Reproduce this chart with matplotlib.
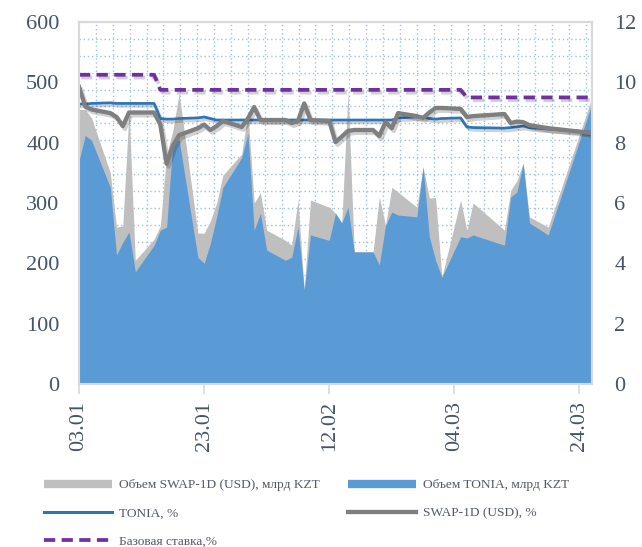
import matplotlib

matplotlib.use("Agg")
import matplotlib.dates as mdates
import matplotlib.patheffects as pe
import matplotlib.pyplot as plt
import numpy as np
import pandas as pd
from matplotlib.lines import Line2D
from matplotlib.ticker import FixedLocator, MultipleLocator

plt.rcParams["font.family"] = ["Liberation Serif", "DejaVu Serif"]

# --- data ---
dates = pd.to_datetime([
    "2018-01-03", "2018-01-04", "2018-01-05", "2018-01-08", "2018-01-09",
    "2018-01-10", "2018-01-11", "2018-01-12", "2018-01-15", "2018-01-16",
    "2018-01-17", "2018-01-18", "2018-01-19", "2018-01-22", "2018-01-23",
    "2018-01-24", "2018-01-25", "2018-01-26", "2018-01-29", "2018-01-30",
    "2018-01-31", "2018-02-01", "2018-02-02", "2018-02-05", "2018-02-06",
    "2018-02-07", "2018-02-08", "2018-02-09", "2018-02-12", "2018-02-13",
    "2018-02-14", "2018-02-15", "2018-02-16", "2018-02-19", "2018-02-20",
    "2018-02-21", "2018-02-22", "2018-02-23", "2018-02-26", "2018-02-27",
    "2018-02-28", "2018-03-01", "2018-03-02", "2018-03-05", "2018-03-06",
    "2018-03-07", "2018-03-12", "2018-03-13", "2018-03-14", "2018-03-15",
    "2018-03-16", "2018-03-19", "2018-03-26",
])

vol_swap = [
    455, 455, 441, 350, 260, 262, 452, 205, 240, 262,
    380, 420, 482, 250, 250, 270, 300, 346, 381, 449,
    300, 317, 255, 238, 230, 305, 156, 305, 293, 283,
    267, 484, 219, 219, 310, 263, 326, 318, 293, 360,
    308, 309, 177, 305, 255, 300, 255, 321, 337, 366,
    277, 260, 475,
]

vol_tonia = [
    370, 412, 404, 326, 214, 235, 252, 186, 230, 255,
    260, 400, 405, 210, 200, 233, 277, 326, 375, 415,
    255, 283, 222, 205, 210, 260, 156, 247, 238, 283,
    267, 293, 219, 219, 197, 263, 285, 280, 277, 360,
    244, 205, 177, 244, 242, 247, 230, 310, 318, 366,
    267, 247, 465,
]

rate_tonia = [
    9.28, 9.28, 9.30, 9.32, 9.30, 9.30, 9.30, 9.30, 9.30, 8.80,
    8.78, 8.78, 8.80, 8.82, 8.85, 8.80, 8.75, 8.75, 8.75, 8.75,
    8.75, 8.75, 8.75, 8.75, 8.75, 8.75, 8.75, 8.75, 8.75, 8.75,
    8.75, 8.75, 8.75, 8.75, 8.75, 8.75, 8.75, 8.82, 8.85, 8.85,
    8.80, 8.78, 8.80, 8.82, 8.52, 8.50, 8.48, 8.50, 8.52, 8.55,
    8.50, 8.45, 8.35,
]

rate_swap = [
    9.85, 9.20, 9.10, 8.98, 8.85, 8.55, 9.00, 9.00, 9.00, 8.60,
    7.30, 7.90, 8.25, 8.48, 8.60, 8.42, 8.55, 8.72, 8.52, 8.80,
    9.18, 8.75, 8.75, 8.75, 8.65, 8.72, 9.30, 8.75, 8.72, 8.02,
    8.20, 8.39, 8.42, 8.42, 8.22, 8.68, 8.48, 8.98, 8.88, 8.82,
    9.00, 9.15, 9.15, 9.12, 8.85, 8.88, 8.95, 8.65, 8.70, 8.68,
    8.58, 8.48, 8.32,
]

base_rate = [10.25] * 9 + [9.75] * 35 + [9.50] * 9

x_start = pd.Timestamp("2018-01-03")
x_end = pd.Timestamp("2018-03-26")
tick_dates = pd.date_range(x_start, x_end, freq="20D")

# --- colours ---
C_GRAY_AREA = "#BFBFBF"
C_BLUE_AREA = "#5B9BD5"
C_TONIA = "#2E75B6"
C_SWAP = "#7F7F7F"
C_BASE = "#7030A0"
C_TEXT = "#44546A"
C_FRAME = "#D9D9D9"
C_GRID = "#9DC3E6"

fig = plt.figure(figsize=(6.42, 5.47), dpi=100)
ax = fig.add_axes([79 / 642, 1 - 384 / 547, 513 / 642, 362 / 547])
ax2 = ax.twinx()

ax.fill_between(dates, 0, vol_swap, color=C_GRAY_AREA, lw=0, zorder=2)
ax.fill_between(dates, 0, vol_tonia, color=C_BLUE_AREA, lw=0, zorder=3)

shadow = [pe.SimpleLineShadow(offset=(1.5, -2.0), alpha=0.18, shadow_color="black"), pe.Normal()]
base_ls = (0, (3.0, 1.7))
ax2.plot(dates, base_rate, color=C_BASE, lw=2.7, ls=base_ls, path_effects=shadow)
ax2.plot(dates, rate_tonia, color=C_TONIA, lw=2.0, path_effects=shadow)
ax2.plot(dates, rate_swap, color=C_SWAP, lw=3.1, path_effects=shadow)

ax.set_xlim(x_start, x_end)
ax.set_ylim(0, 600)
ax2.set_ylim(0, 12)

# dotted grid pattern of the plot area
ax.set_axisbelow(True)
ax.xaxis.set_minor_locator(FixedLocator(mdates.date2num(x_start) + np.arange(0, 83, 2.7)))
ax.yaxis.set_minor_locator(FixedLocator(np.arange(600, 0, -28.0)))
ax.grid(which="minor", color=C_GRID, lw=1.0, ls=(0, (1, 2)))
ax.tick_params(which="minor", length=0)

ax.xaxis.set_major_locator(FixedLocator(mdates.date2num(tick_dates)))
ax.xaxis.set_major_formatter(mdates.DateFormatter("%d.%m"))
ax.yaxis.set_major_locator(MultipleLocator(100))
ax2.yaxis.set_major_locator(MultipleLocator(2))

ax.tick_params(axis="x", which="major", length=7, width=1.2, color=C_FRAME,
               labelsize=16, labelcolor=C_TEXT, labelrotation=90, pad=5)
ax.tick_params(axis="y", which="major", length=0, labelsize=16, labelcolor=C_TEXT, pad=14)
ax2.tick_params(axis="y", length=0, labelsize=16, labelcolor=C_TEXT, pad=16)

for a in (ax, ax2):
    for s in a.spines.values():
        s.set_color(C_FRAME)
        s.set_linewidth(1.5)

# --- legend in two fixed columns ---
leg_kw = dict(
    frameon=False, fontsize=9.6, labelcolor="#54596A", loc="upper left",
    handlelength=5.1, handletextpad=0.55, labelspacing=1.2, borderpad=0, borderaxespad=0,
)
col1 = [
    (Line2D([], [], color=C_GRAY_AREA, lw=6, solid_capstyle="butt"), "Объем SWAP-1D (USD), млрд KZT"),
    (Line2D([], [], color=C_TONIA, lw=2.2), "TONIA, %"),
    (Line2D([], [], color=C_BASE, lw=2.7, ls=base_ls), "Базовая ставка,%"),
]
col2 = [
    (Line2D([], [], color=C_BLUE_AREA, lw=6, solid_capstyle="butt"), "Объем TONIA, млрд KZT"),
    (Line2D([], [], color=C_SWAP, lw=3.1), "SWAP-1D (USD), %"),
]
fig.legend(*zip(*col1), bbox_to_anchor=(44 / 642, 1 - 479 / 547), **leg_kw)
fig.legend(*zip(*col2), bbox_to_anchor=(348 / 642, 1 - 479 / 547), **leg_kw)

fig.savefig("out.png", dpi=100, facecolor="white")
